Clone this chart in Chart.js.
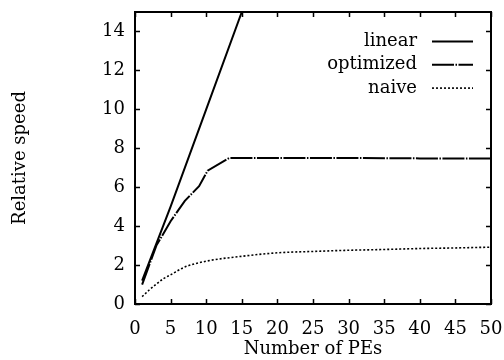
<!DOCTYPE html>
<html>
<head>
<meta charset="utf-8">
<script src="https://cdn.jsdelivr.net/npm/chart.js@4"></script>
<style>
html,body{margin:0;padding:0;background:#fff;}
#wrap{width:504px;height:360px;position:relative;}
</style>
</head>
<body>
<div id="wrap"><canvas id="c" width="504" height="360"></canvas></div>
<script>
// ---- data ----
const seriesNames = ["linear", "optimized", "naive"];
const linearX = [1, 5, 10, 15, 16];
const linearY = [1.2, 5, 10, 15, 16];
const optimizedX = [1, 3, 5, 7, 9, 10.2, 13.2, 20, 30, 40, 50];
const optimizedY = [1.0, 3.0, 4.25, 5.3, 6.05, 6.85, 7.5, 7.5, 7.5, 7.48, 7.48];
const naiveX = [1, 2, 3, 4, 5, 7, 10, 15, 20, 25, 30, 35, 40, 45, 50];
const naiveY = [0.38, 0.72, 1.02, 1.3, 1.5, 1.9, 2.2, 2.45, 2.63, 2.7, 2.76, 2.8, 2.85, 2.88, 2.92];
const xTicks = [0, 5, 10, 15, 20, 25, 30, 35, 40, 45, 50];
const yTicks = [0, 2, 4, 6, 8, 10, 12, 14];
const xTitle = "Number of PEs";
const yTitle = "Relative speed";

const pts = (xs, ys) => xs.map((x, i) => ({x: x, y: ys[i]}));
const FONT = "'DejaVu Serif', 'Liberation Serif', serif";

const frameTicks = {
  id: 'frameTicks',
  afterDatasetsDraw(chart) {
    const {ctx, chartArea: a, scales} = chart;
    ctx.save();
    ctx.strokeStyle = '#000';
    ctx.lineWidth = 1.5;
    const L = 5;
    ctx.beginPath();
    xTicks.forEach(v => {
      const px = Math.round(scales.x.getPixelForValue(v)) + 0.5;
      ctx.moveTo(px, a.bottom); ctx.lineTo(px, a.bottom - L);
      ctx.moveTo(px, a.top); ctx.lineTo(px, a.top + L);
    });
    yTicks.forEach(v => {
      const py = Math.round(scales.y.getPixelForValue(v)) + 0.5;
      ctx.moveTo(a.left, py); ctx.lineTo(a.left + L, py);
      ctx.moveTo(a.right, py); ctx.lineTo(a.right - L, py);
    });
    ctx.stroke();
    ctx.lineWidth = 2;
    ctx.strokeRect(a.left, a.top, a.right - a.left, a.bottom - a.top);
    // legend (gnuplot style: label then sample)
    ctx.font = "18px " + FONT;
    ctx.fillStyle = '#000';
    ctx.textAlign = 'right';
    ctx.textBaseline = 'middle';
    const textRight = a.right - 74;
    const s0 = a.right - 59, s1 = a.right - 18;
    chart.data.datasets.forEach((ds, i) => {
      const y = a.top + 29.5 + i * 23.3;
      ctx.fillText(ds.label, textRight, y);
      ctx.save();
      ctx.lineWidth = ds.borderWidth;
      ctx.setLineDash(ds.borderDash || []);
      ctx.beginPath();
      ctx.moveTo(s0, y); ctx.lineTo(s1, y);
      ctx.stroke();
      ctx.restore();
    });
    ctx.restore();
  }
};

const zeroPad = s => { s.paddingLeft = 0; s.paddingRight = 0; s.paddingTop = 0; s.paddingBottom = 0; };

new Chart(document.getElementById('c'), {
  type: 'scatter',
  data: {
    datasets: [
      {label: seriesNames[0], data: pts(linearX, linearY), showLine: true, borderColor: '#000', borderWidth: 2, pointRadius: 0, borderDash: []},
      {label: seriesNames[1], data: pts(optimizedX, optimizedY), showLine: true, borderColor: '#000', borderWidth: 2, pointRadius: 0, borderDash: [22, 1.5, 1.5, 1.5]},
      {label: seriesNames[2], data: pts(naiveX, naiveY), showLine: true, borderColor: '#000', borderWidth: 1.6, pointRadius: 0, borderDash: [2, 2], cubicInterpolationMode: 'monotone'}
    ]
  },
  options: {
    responsive: false,
    animation: false,
    layout: {padding: {top: 12, right: 13, left: 0, bottom: 0}},
    plugins: {legend: {display: false}, tooltip: {enabled: false}},
    scales: {
      x: {
        type: 'linear', min: 0, max: 50,
        afterBuildTicks: s => { s.ticks = xTicks.map(v => ({value: v})); },
        afterFit: s => { s.height = 56; zeroPad(s); },
        grid: {display: false, drawTicks: false},
        border: {display: false},
        ticks: {color: '#000', font: {family: FONT, size: 18}, padding: 15, maxRotation: 0, autoSkip: false},
        title: {display: true, text: xTitle, color: '#000', font: {family: FONT, size: 18}, padding: {top: 0, bottom: 0}}
      },
      y: {
        type: 'linear', min: 0, max: 15,
        afterBuildTicks: s => { s.ticks = yTicks.map(v => ({value: v})); },
        afterFit: s => { s.width = 135; zeroPad(s); },
        grid: {display: false, drawTicks: false},
        border: {display: false},
        ticks: {color: '#000', font: {family: FONT, size: 18}, padding: 10, autoSkip: false},
        title: {display: true, text: yTitle, color: '#000', font: {family: FONT, size: 18}, padding: {top: 10, bottom: 0}}
      }
    }
  },
  plugins: [frameTicks]
});
</script>
</body>
</html>
